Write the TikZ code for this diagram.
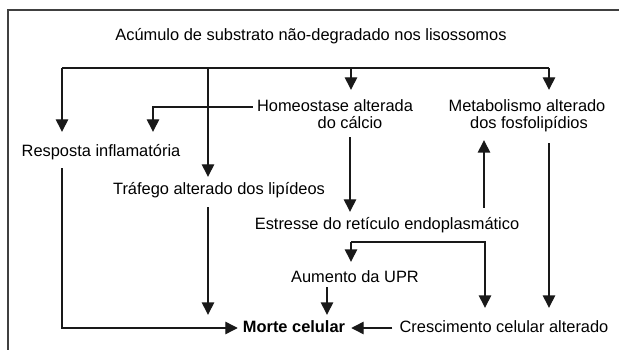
\documentclass[tikz,border=0pt]{standalone}
\usepackage{fontspec}
\setmainfont{Liberation Sans}
\usetikzlibrary{arrows.meta}
\begin{document}
\begin{tikzpicture}[x=1pt,y=-1pt,
  lbl/.style={font=\fontsize{16.4}{18}\selectfont, inner sep=0pt, text height=12pt, text depth=3.5pt},
  ln/.style={line width=1.4pt, black!90},
  arr/.style={ln, -{Triangle[width=12.5pt,length=12.5pt]}},
  frame/.style={line width=2pt, black!75}]
\useasboundingbox (0,0) rectangle (619,350);
\draw[frame] (7.5,350) -- (7.5,10.5) -- (619,10.5);
% nodes
\node[lbl] (acu) at (311,36) {Acúmulo de substrato não-degradado nos lisossomos};
\node[lbl] (homeo1) at (335,107) {Homeostase alterada};
\node[lbl] (homeo2) at (350,124) {do cálcio};
\node[lbl] (meta1) at (527,107) {Metabolismo alterado};
\node[lbl] (meta2) at (529,124) {dos fosfolipídios};
\node[lbl] (resp) at (101,152) {Resposta inflamatória};
\node[lbl] (traf) at (219,190) {Tráfego alterado dos lipídeos};
\node[lbl] (estr) at (387,225) {Estresse do retículo endoplasmático};
\node[lbl] (upr) at (355,278) {Aumento da UPR};
\node[lbl, font=\fontsize{16.4}{18}\selectfont\bfseries] (morte) at (294,328) {Morte celular};
\node[lbl] (cresc) at (504,328) {Crescimento celular alterado};
% free coordinates
\coordinate (b1) at (62,68);
\coordinate (b2) at (208,68);
\coordinate (b3) at (351,68);
\coordinate (b4) at (549,68);
\coordinate (k1) at (351,242);
\coordinate (k2) at (485,242);
\coordinate (u) at ([xshift=97pt]estr.north);
\coordinate (m) at ([xshift=-28pt]upr.south);
\coordinate (r) at ([xshift=52pt]resp.north);
% connectors
\draw[ln] (b1) -- (b4);
\draw[arr, shorten >=12.25pt] (b1) -- (b1 |- resp.north);
\draw[arr, shorten >=5.25pt] (b2) -- (b2 |- traf.north);
\draw[arr, shorten >=9.25pt] (b3) -- (b3 |- homeo1.north);
\draw[arr, shorten >=9.25pt] (b4) -- (b4 |- meta1.north);
\draw[arr, shorten <=4pt, shorten >=12.25pt] (homeo1.west) -| (r);
\draw[arr, shorten <=5.25pt, shorten >=5.25pt] (homeo2.south) -- (homeo2.south |- estr.north);
\draw[arr, shorten <=9.25pt, shorten >=8.25pt] (u) -- (u |- meta2.south);
\draw[arr, shorten <=11.25pt, shorten >=12.25pt] (b4 |- meta2.south) -- (b4 |- cresc.north);
\draw[arr, shorten >=8.25pt] (k1) -- (k1 |- upr.north);
\draw[arr, shorten >=12.25pt] (k1) -- (k2) -- (k2 |- cresc.north);
\draw[arr, shorten <=1.5pt, shorten >=5.25pt] (m) -- (m |- morte.north);
\draw[arr, shorten <=9.25pt, shorten >=5.25pt] (b2 |- traf.south) -- (b2 |- morte.north);
\draw[arr, shorten <=8.25pt, shorten >=5pt] (b1 |- resp.south) |- (morte.west);
\draw[arr, shorten <=7pt, shorten >=6pt] (cresc.west) -- (morte.east);
\end{tikzpicture}
\end{document}
